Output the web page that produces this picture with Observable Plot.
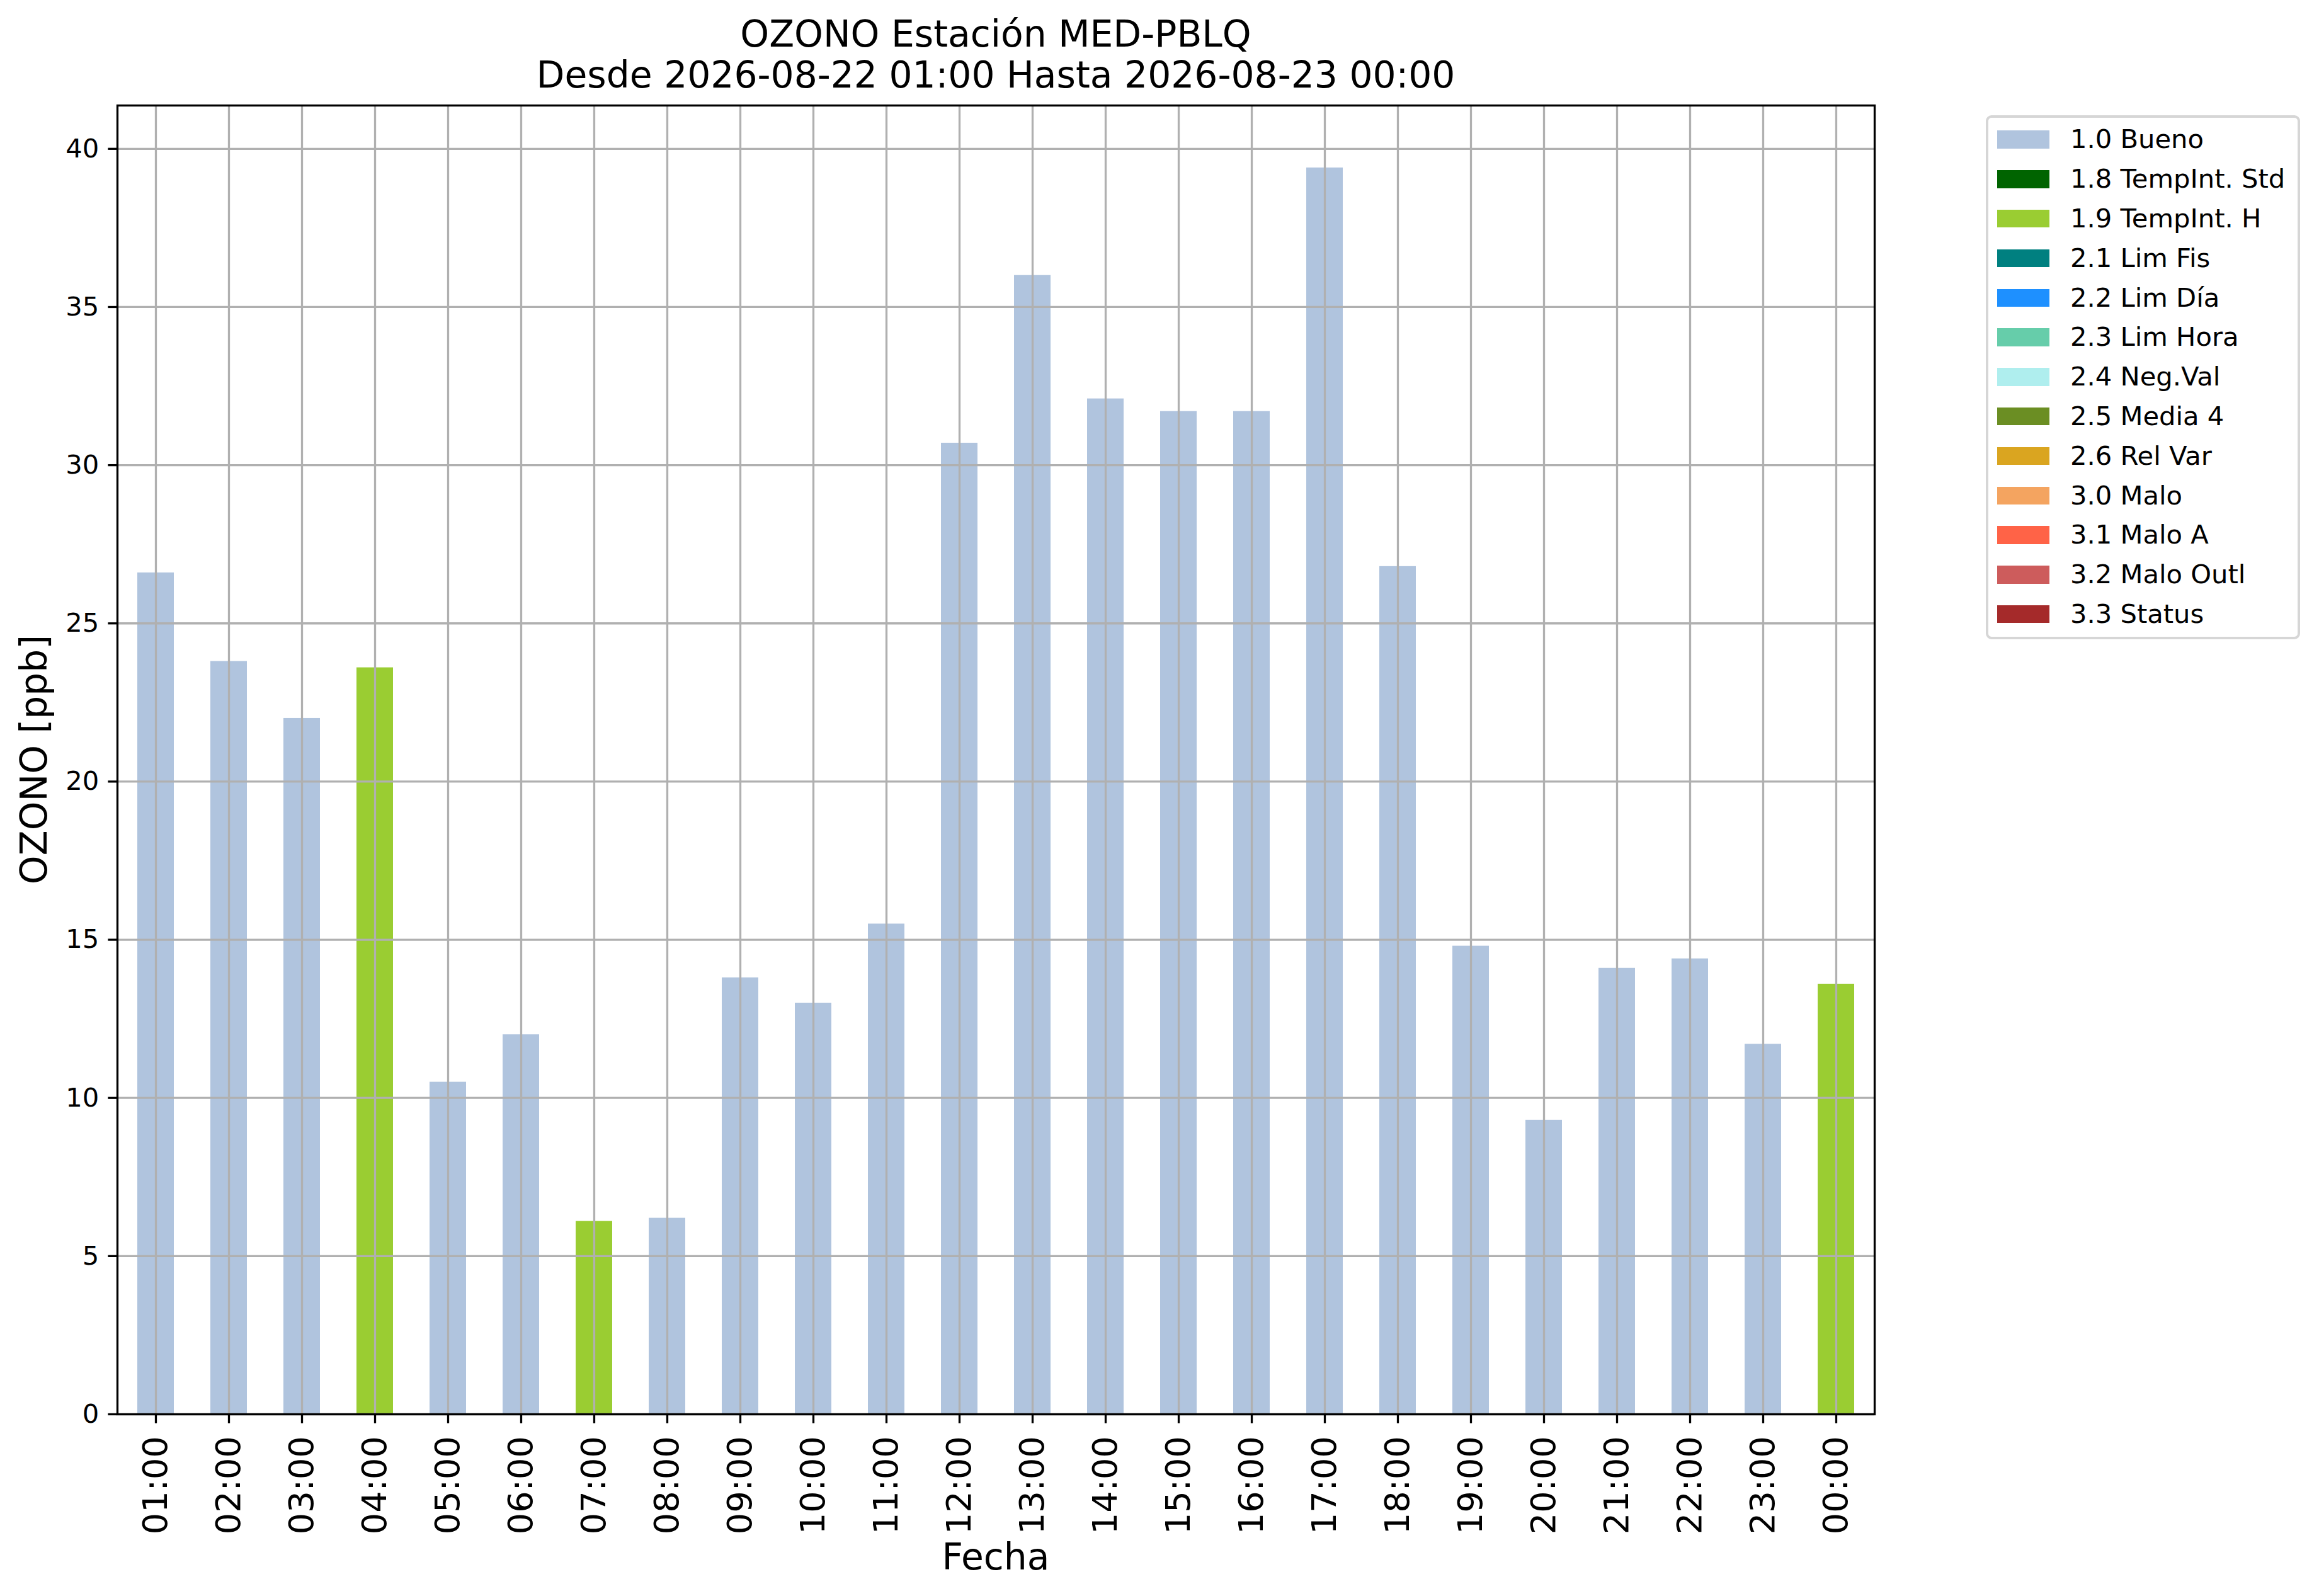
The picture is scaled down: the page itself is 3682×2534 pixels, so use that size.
<!DOCTYPE html>
<html>
<head>
<meta charset="utf-8">
<script src="https://cdn.jsdelivr.net/npm/d3@7"></script>
<script src="https://cdn.jsdelivr.net/npm/@observablehq/plot@0.6"></script>
<style>
  html, body { margin: 0; padding: 0; background: white; }
  #wrap { position: relative; width: 3682px; height: 2534px; font-family: "DejaVu Sans", sans-serif; color: black; }
  #wrap svg { position: absolute; left: 0; top: 0; }
  .txt { position: absolute; white-space: nowrap; line-height: 1; }
</style>
</head>
<body>
<div id="wrap"></div>
<script>
// ---- data ----
const titleLine1 = "OZONO Estación MED-PBLQ";
const titleLine2 = "Desde 2026-08-22 01:00 Hasta 2026-08-23 00:00";
const yLabel = "OZONO [ppb]";
const xLabel = "Fecha";

const hours = ["01:00","02:00","03:00","04:00","05:00","06:00","07:00","08:00","09:00","10:00","11:00","12:00",
               "13:00","14:00","15:00","16:00","17:00","18:00","19:00","20:00","21:00","22:00","23:00","00:00"];
const values = [26.6, 23.8, 22.0, 23.6, 10.5, 12.0, 6.1, 6.2, 13.8, 13.0, 15.5, 30.7,
                36.0, 32.1, 31.7, 31.7, 39.4, 26.8, 14.8, 9.3, 14.1, 14.4, 11.7, 13.6];
const flags = ["1.0 Bueno","1.0 Bueno","1.0 Bueno","1.9 TempInt. H","1.0 Bueno","1.0 Bueno","1.9 TempInt. H","1.0 Bueno",
               "1.0 Bueno","1.0 Bueno","1.0 Bueno","1.0 Bueno","1.0 Bueno","1.0 Bueno","1.0 Bueno","1.0 Bueno",
               "1.0 Bueno","1.0 Bueno","1.0 Bueno","1.0 Bueno","1.0 Bueno","1.0 Bueno","1.0 Bueno","1.9 TempInt. H"];

const legendLabels = ["1.0 Bueno","1.8 TempInt. Std","1.9 TempInt. H","2.1 Lim Fis","2.2 Lim Día","2.3 Lim Hora",
                      "2.4 Neg.Val","2.5 Media 4","2.6 Rel Var","3.0 Malo","3.1 Malo A","3.2 Malo Outl","3.3 Status"];
const legendColors = ["#b0c4de","#006400","#9acd32","#008080","#1e90ff","#66cdaa",
                      "#afeeee","#6b8e23","#daa520","#f4a460","#ff6347","#cd5c5c","#a52a2a"];

const yTicks = [0, 5, 10, 15, 20, 25, 30, 35, 40];

// ---- build ----
const rows = hours.map((h, i) => ({hour: h, value: values[i], flag: flags[i]}));
const yMax = d3.max(values) * 1.05;

const gridStyle = {stroke: "#b0b0b0", strokeOpacity: 1, strokeWidth: 3.3};

const chart = Plot.plot({
  width: 3682,
  height: 2534,
  marginLeft: 186,
  marginRight: 706,
  marginTop: 167,
  marginBottom: 289,
  style: {fontFamily: "DejaVu Sans, sans-serif", background: "white", color: "black", overflow: "visible"},
  x: {type: "band", domain: hours, paddingInner: 0.5, paddingOuter: 0.25, align: 0.5, label: null},
  y: {domain: [0, yMax], label: null},
  color: {type: "ordinal", domain: legendLabels, range: legendColors},
  marks: [
    Plot.barY(rows, {x: "hour", y: "value", fill: "flag"}),
    Plot.gridX(hours, gridStyle),
    Plot.gridY(yTicks, gridStyle),
    Plot.frame({stroke: "black", strokeWidth: 3.3}),
    Plot.axisX({tickRotate: -90, tickSize: 14.6, tickPadding: 20, fontSize: 54.2, strokeWidth: 3.3, label: null}),
    Plot.axisY(yTicks, {tickSize: 14.6, tickPadding: 14.7, fontSize: 41.67, strokeWidth: 3.3, label: null,
      tickFormat: d => String(d)})
  ]
});

const wrap = document.getElementById("wrap");
wrap.appendChild(chart);

function addText(str, opts) {
  const d = document.createElement("div");
  d.className = "txt";
  d.textContent = str;
  Object.assign(d.style, opts);
  wrap.appendChild(d);
  return d;
}

// Title (baselines at ~74.5 and ~139.5, centered on plot)
const cx = 1581;
const tf = 58.3;
addText(titleLine1, {left: cx + "px", top: (74.5 - 0.846 * tf) + "px", fontSize: tf + "px", transform: "translateX(-50%)"});
addText(titleLine2, {left: cx + "px", top: (139.5 - 0.846 * tf) + "px", fontSize: tf + "px", transform: "translateX(-50%)"});

// X label
addText(xLabel, {left: cx + "px", top: (2492 - 0.846 * tf) + "px", fontSize: tf + "px", transform: "translateX(-50%)"});

// Y label (rotated), baseline at x≈74, centered at y≈1206
addText(yLabel, {left: (74 - 0.346 * tf) + "px", top: "1206px", fontSize: tf + "px",
  transform: "translate(-50%, -50%) rotate(-90deg)"});

// Legend
const lg = document.createElement("div");
Object.assign(lg.style, {position: "absolute", left: "3153px", top: "183px", width: "499px", height: "832px",
  boxSizing: "border-box", border: "4px solid #d6d6d6", borderRadius: "9px", background: "white"});
wrap.appendChild(lg);
const lf = 41.67;
legendLabels.forEach((lab, i) => {
  const sw = document.createElement("div");
  Object.assign(sw.style, {position: "absolute", left: "3171px", top: (207.3 + i * 62.8) + "px",
    width: "83px", height: "28.6px", background: legendColors[i]});
  wrap.appendChild(sw);
  addText(lab, {left: "3287px", top: (235.7 + i * 62.8 - 0.846 * lf) + "px", fontSize: lf + "px"});
});
</script>
</body>
</html>
